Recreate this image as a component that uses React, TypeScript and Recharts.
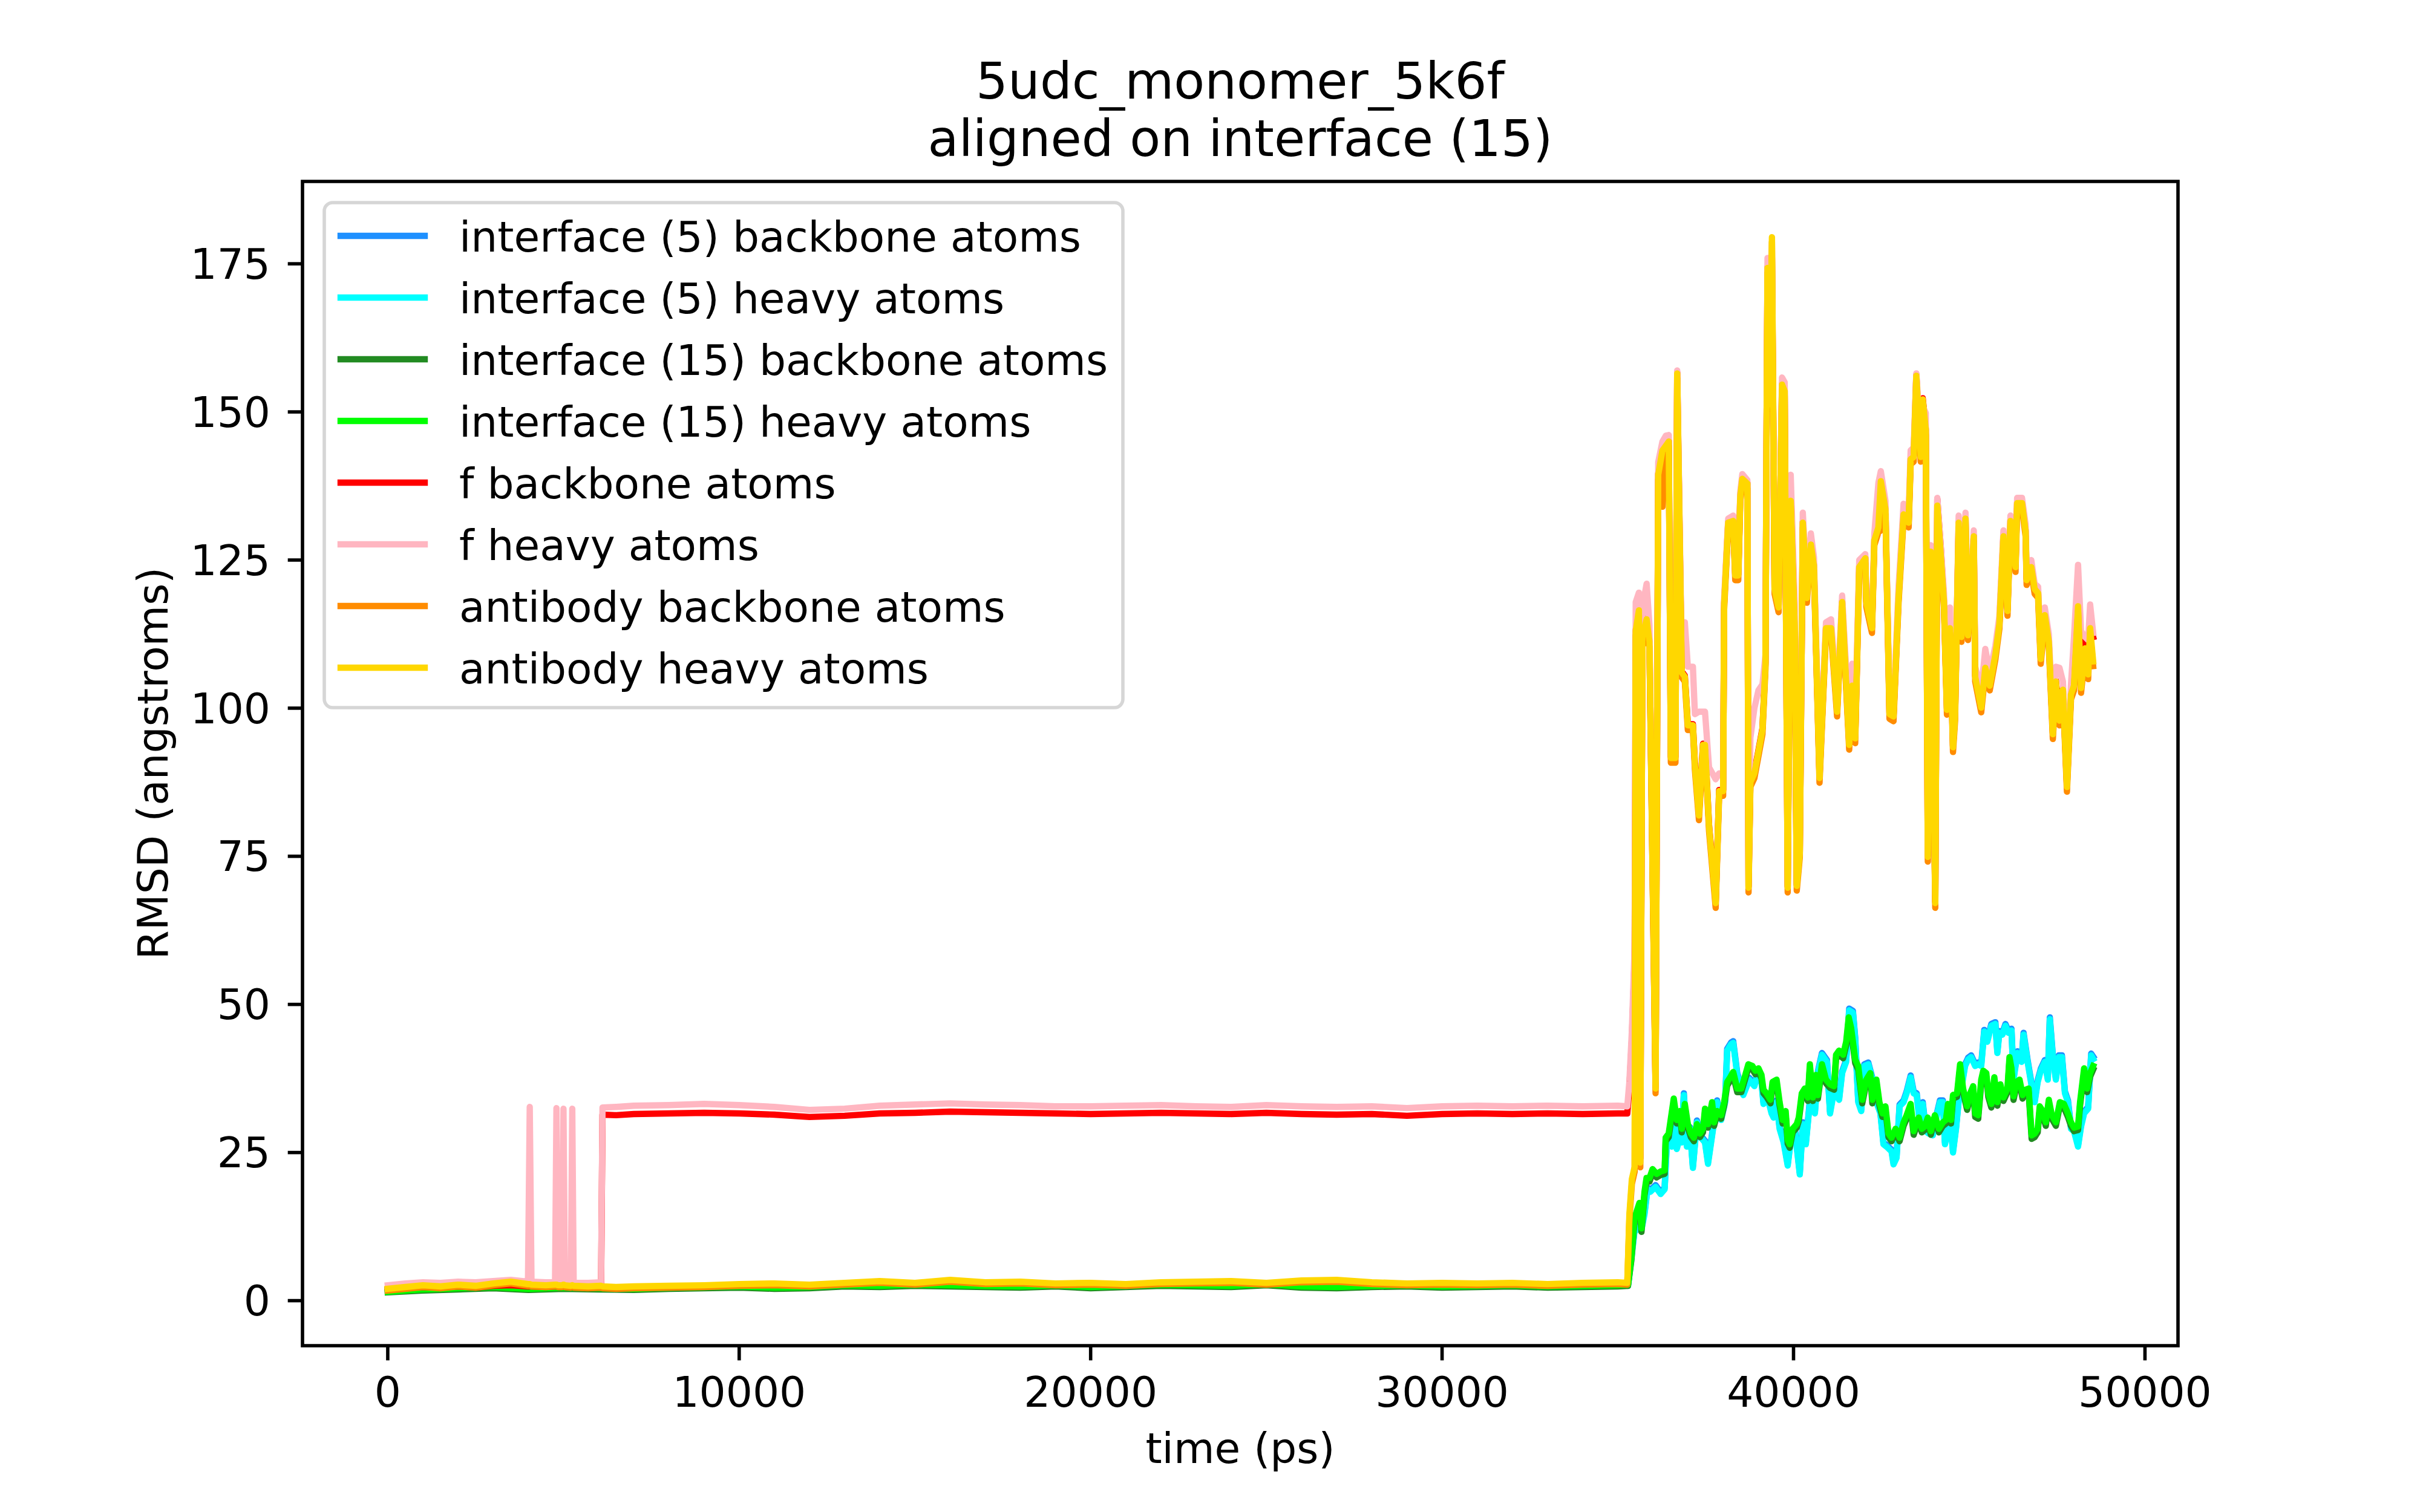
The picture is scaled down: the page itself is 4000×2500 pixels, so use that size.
import React from 'react';
import { LineChart, Line, XAxis, YAxis, ReferenceArea } from 'recharts';

// RMSD trajectories (time in ps, RMSD in angstroms)

// --- f / antibody group (shared time base) ---
const timeAFlat = [0, 500, 1000, 1500, 2000, 2500, 3000, 3500, 3990, 4040, 4090, 4500, 4760, 4800, 4840, 4960, 5000, 5040, 5210, 5250, 5290, 5700, 6070, 6110, 6500, 7000, 8000, 9000, 10000, 11000, 12000, 13000, 14000, 15000, 16000, 17000, 18000, 19000, 20000, 21000, 22000, 23000, 24000, 25000, 26000, 27000, 28000, 29000, 30000, 31000, 32000, 33000, 34000, 35000, 35270];
const timeAWild = [
  35330, 35400, 35480, 35510, 35600, 35640, 35700, 35820, 35900, 36075,
  36150, 36270, 36370, 36450, 36510, 36640, 36690, 36820, 36907, 36993,
  37137, 37194, 37309, 37424, 37481, 37596, 37785, 37883, 37997, 38026,
  38141, 38284, 38342, 38428, 38485, 38543, 38686, 38720, 38772, 38887,
  39002, 39116, 39202, 39231, 39260, 39317, 39386, 39461, 39575, 39673,
  39748, 39834, 39920, 40034, 40092, 40178, 40264, 40379, 40493, 40580,
  40740, 40924, 41067, 41240, 41383, 41584, 41669, 41755, 41870, 42042,
  42071, 42232, 42300, 42415, 42484, 42616, 42731, 42845, 42989, 43132,
  43276, 43333, 43419, 43494, 43620, 43677, 43764, 43821, 43907, 44033,
  44091, 44194, 44280, 44366, 44452, 44538, 44596, 44699, 44779, 44894,
  44963, 45129, 45169, 45341, 45456, 45583, 45743, 45858, 45973, 46088,
  46173, 46317, 46363, 46501, 46604, 46633, 46765, 46862, 46960, 47034,
  47149, 47264, 47379, 47465, 47568, 47665, 47780, 47895, 47981, 48096,
  48182, 48297, 48383, 48440, 48526,
];

const goldFlat = [2.0, 2.3, 2.6, 2.4, 2.7, 2.5, 2.9, 3.2, 2.8, 2.8, 2.7, 2.6, 2.7, 2.7, 2.6, 2.6, 2.7, 2.6, 2.5, 2.6, 2.5, 2.4, 2.5, 2.4, 2.3, 2.4, 2.5, 2.6, 2.8, 2.9, 2.7, 3.0, 3.3, 3.0, 3.5, 3.1, 3.2, 2.9, 3.0, 2.8, 3.1, 3.2, 3.3, 3.0, 3.4, 3.5, 3.1, 2.9, 3.0, 2.9, 3.0, 2.8, 3.0, 3.1, 3.0];
const goldWild = [
  14.6, 20.5, 22.6, 113.0, 116.5, 23.3, 112.0, 115.0, 111.2, 35.8,
  139.4, 143.5, 144.3, 145.0, 91.6, 91.6, 156.5, 106.0, 105.3, 97.1,
  97.1, 90.4, 81.9, 93.8, 93.8, 80.1, 67.1, 86.0, 86.0, 117.5,
  131.3, 131.6, 122.4, 122.4, 135.7, 138.7, 137.9, 69.7, 87.5, 89.0,
  92.7, 96.4, 107.5, 144.6, 174.3, 151.3, 179.5, 120.1, 117.0, 154.6,
  153.5, 69.7, 135.0, 113.5, 70.0, 75.6, 131.3, 118.6, 127.6, 124.0,
  88.2, 113.5, 113.5, 99.4, 117.9, 93.8, 103.8, 94.9, 123.8, 125.3,
  117.9, 113.5, 128.3, 130.5, 138.3, 133.5, 99.0, 98.6, 118.6, 132.7,
  131.3, 142.0, 142.4, 156.1, 142.4, 152.1, 146.9, 74.9, 126.4, 67.1,
  134.2, 125.3, 117.9, 99.7, 113.5, 93.4, 98.6, 131.3, 112.0, 132.0,
  112.3, 129.0, 105.3, 100.1, 106.8, 103.8, 109.0, 114.2, 129.0, 116.4,
  131.6, 123.8, 134.6, 134.6, 129.8, 121.6, 123.8, 120.1, 119.4, 108.3,
  115.7, 111.2, 95.6, 104.5, 97.9, 103.1, 86.7, 102.3, 103.8, 117.2,
  103.4, 110.1, 105.7, 113.5, 107.9,
];

const orangeFlat = [1.7, 2.0, 2.3, 2.1, 2.4, 2.2, 2.6, 2.9, 2.5, 2.5, 2.4, 2.3, 2.4, 2.4, 2.3, 2.3, 2.4, 2.3, 2.2, 2.3, 2.2, 2.1, 2.2, 2.1, 2.0, 2.1, 2.2, 2.3, 2.5, 2.6, 2.4, 2.7, 3.0, 2.7, 3.2, 2.8, 2.9, 2.6, 2.7, 2.5, 2.8, 2.9, 3.0, 2.7, 3.1, 3.2, 2.8, 2.6, 2.7, 2.6, 2.7, 2.5, 2.7, 2.8, 2.7];
const orangeWild = [
  13.8, 19.7, 21.8, 112.2, 115.7, 22.5, 111.2, 111.5, 110.4, 35.0,
  138.6, 134.0, 143.5, 144.2, 90.8, 90.8, 155.7, 105.2, 104.5, 96.3,
  96.3, 89.6, 81.1, 93.0, 93.0, 79.3, 66.3, 85.2, 85.2, 116.7,
  130.5, 130.8, 121.6, 121.6, 134.9, 137.9, 137.1, 68.9, 86.7, 88.2,
  91.9, 95.6, 106.7, 143.8, 173.5, 150.5, 178.7, 119.3, 116.2, 153.8,
  152.7, 68.9, 134.2, 112.7, 69.2, 74.8, 130.5, 117.8, 126.8, 123.2,
  87.4, 112.7, 112.7, 98.6, 117.1, 93.0, 103.0, 94.1, 123.0, 124.5,
  117.1, 112.7, 127.5, 129.7, 130.0, 132.7, 98.2, 97.8, 117.8, 131.9,
  130.5, 141.2, 141.6, 155.3, 141.6, 151.3, 146.1, 74.1, 125.6, 66.3,
  133.4, 124.5, 117.1, 98.9, 112.7, 92.6, 97.8, 130.5, 111.2, 131.2,
  111.5, 128.2, 104.5, 99.3, 106.0, 103.0, 108.2, 113.4, 128.2, 115.6,
  130.8, 123.0, 133.8, 133.8, 129.0, 120.8, 123.0, 119.3, 118.6, 107.5,
  114.9, 110.4, 94.8, 103.7, 97.1, 102.3, 85.9, 101.5, 103.0, 116.4,
  102.6, 109.3, 104.9, 112.7, 107.1,
];

const redFlat = [1.9, 2.1, 2.3, 2.2, 2.4, 2.2, 2.5, 2.6, 2.4, 2.4, 2.4, 2.3, 2.4, 2.4, 2.3, 2.3, 2.4, 2.3, 2.2, 2.3, 2.2, 2.2, 2.2, 31.4, 31.3, 31.5, 31.6, 31.7, 31.6, 31.4, 31.0, 31.2, 31.6, 31.7, 31.9, 31.8, 31.7, 31.6, 31.5, 31.6, 31.7, 31.6, 31.5, 31.7, 31.5, 31.4, 31.5, 31.2, 31.5, 31.6, 31.5, 31.6, 31.5, 31.6, 31.6];
const redWild = [
  36.0, 44.0, 58.0, 113.2, 116.7, 24.0, 112.2, 115.2, 111.4, 36.0,
  139.6, 143.7, 144.5, 145.2, 91.8, 91.8, 156.7, 106.2, 105.5, 97.3,
  97.3, 90.6, 82.1, 94.0, 94.0, 80.3, 67.3, 86.2, 86.2, 117.7,
  131.5, 131.8, 122.6, 122.6, 135.9, 138.9, 138.1, 69.9, 87.7, 89.2,
  92.9, 96.6, 107.7, 144.8, 174.5, 151.5, 176.0, 120.3, 117.2, 154.8,
  153.7, 69.9, 135.2, 113.7, 70.2, 75.8, 131.5, 118.8, 127.8, 124.2,
  88.4, 113.7, 113.7, 99.6, 118.1, 94.0, 104.0, 95.1, 124.0, 125.5,
  118.1, 113.7, 128.5, 130.7, 138.5, 133.7, 99.2, 98.8, 118.8, 132.9,
  131.5, 142.2, 142.6, 156.3, 142.6, 152.3, 147.1, 75.1, 126.6, 67.3,
  135.3, 126.8, 118.1, 99.9, 113.7, 93.6, 98.8, 131.5, 112.2, 132.2,
  112.5, 129.2, 105.5, 100.3, 107.0, 104.0, 109.2, 114.4, 129.2, 116.6,
  131.8, 124.0, 134.8, 134.8, 130.0, 121.8, 124.0, 120.3, 119.6, 108.5,
  115.9, 111.4, 95.8, 104.7, 98.1, 103.3, 86.9, 102.5, 104.0, 117.4,
  110.0, 111.0, 110.5, 114.0, 112.0,
];

const pinkFlat = [2.6, 2.9, 3.1, 3.0, 3.2, 3.1, 3.3, 3.5, 3.2, 32.7, 3.2, 3.1, 3.1, 32.5, 3.1, 3.1, 32.4, 3.1, 3.0, 32.4, 3.0, 3.0, 3.1, 32.6, 32.7, 32.9, 33.0, 33.2, 33.0, 32.7, 32.2, 32.4, 32.9, 33.1, 33.3, 33.1, 33.0, 32.8, 32.8, 32.9, 33.0, 32.8, 32.7, 33.0, 32.8, 32.7, 32.8, 32.5, 32.8, 32.9, 32.8, 32.9, 32.8, 32.9, 32.8];
const pinkWild = [
  37.0, 45.5, 60.0, 117.9, 119.5, 25.0, 117.0, 121.0, 114.0, 37.0,
  141.5, 145.0, 146.0, 146.1, 93.0, 93.0, 157.0, 108.5, 114.5, 107.0,
  107.0, 99.0, 99.4, 99.4, 99.4, 90.0, 88.0, 89.0, 88.5, 118.5,
  132.0, 132.5, 123.5, 123.5, 136.5, 139.5, 138.5, 71.0, 95.0, 100.0,
  103.0, 104.0, 109.0, 146.0, 176.0, 172.0, 176.2, 122.0, 118.5, 155.8,
  155.0, 71.0, 139.4, 117.9, 72.0, 78.0, 133.0, 120.0, 129.5, 125.5,
  90.0, 114.5, 115.0, 101.0, 119.0, 97.0, 107.5, 98.0, 125.0, 126.0,
  119.0, 114.5, 129.5, 138.0, 140.0, 135.0, 100.0, 100.0, 120.5, 134.5,
  133.0, 143.5, 144.0, 156.5, 145.0, 151.0, 149.8, 76.0, 127.5, 68.5,
  135.5, 127.0, 119.5, 101.0, 117.0, 95.0, 100.0, 132.5, 113.5, 133.0,
  113.5, 130.0, 107.0, 103.0, 110.0, 106.0, 110.5, 115.5, 130.0, 118.0,
  132.5, 125.0, 135.5, 135.5, 131.0, 123.0, 125.0, 121.0, 120.5, 109.5,
  117.0, 112.5, 97.0, 107.0, 106.8, 104.5, 88.0, 104.0, 112.0, 124.2,
  113.0, 112.0, 111.5, 117.5, 112.7,
];

// --- interface groups: shared flat part ---
const timeFlat = [0, 1000, 2000, 3000, 4000, 5000, 6000, 7000, 8000, 9000, 10000, 11000, 12000, 13000, 14000, 15000, 16000, 17000, 18000, 19000, 20000, 21000, 22000, 23000, 24000, 25000, 26000, 27000, 28000, 29000, 30000, 31000, 32000, 33000, 34000, 35000, 35290];

// interface (15)
const time15Wild = [
  35387, 35473, 35616, 35674, 35760, 35817, 35903, 35989, 36104, 36219,
  36333, 36362, 36448, 36592, 36678, 36764, 36821, 36907, 36993, 37079,
  37165, 37251, 37338, 37424, 37481, 37567, 37682, 37739, 37825, 37940,
  38026, 38112, 38198, 38284, 38399, 38514, 38629, 38715, 38830, 38916,
  39002, 39088, 39145, 39231, 39346, 39403, 39518, 39604, 39690, 39776,
  39834, 39891, 39977, 40092, 40149, 40235, 40321, 40407, 40465, 40551,
  40637, 40694, 40809, 40924, 41039, 41153, 41211, 41297, 41412, 41498,
  41570, 41640, 41755, 41841, 41956, 42071, 42186, 42243, 42358, 42444,
  42530, 42616, 42702, 42788, 42903, 43018, 43132, 43218, 43333, 43419,
  43505, 43563, 43649, 43735, 43821, 43907, 44022, 44136, 44251, 44337,
  44395, 44481, 44538, 44653, 44739, 44825, 44940, 45026, 45112, 45169,
  45255, 45341, 45399, 45485, 45542, 45628, 45714, 45800, 45886, 45973,
  46087, 46145, 46202, 46260, 46346, 46432, 46518, 46604, 46690, 46776,
  46862, 46948, 47005, 47091, 47178, 47264, 47350, 47465, 47579, 47694,
  47809, 47895, 47981, 48096, 48153, 48268, 48354, 48440, 48526,
];
const limeFlat = [1.5, 1.9, 2.1, 2.3, 2.0, 2.2, 2.1, 2.0, 2.2, 2.3, 2.4, 2.2, 2.3, 2.6, 2.5, 2.7, 2.6, 2.5, 2.4, 2.6, 2.3, 2.5, 2.7, 2.6, 2.5, 2.8, 2.4, 2.3, 2.5, 2.6, 2.4, 2.5, 2.6, 2.4, 2.5, 2.6, 2.7];
const limeWild = [
  7.5, 13.9, 16.5, 12.2, 18.4, 20.7, 20.7, 22.2, 21.4, 21.8,
  22.0, 27.5, 28.2, 34.1, 30.5, 32.0, 29.0, 33.2, 29.8, 28.2,
  27.5, 29.8, 28.2, 29.0, 32.4, 29.8, 33.5, 30.1, 32.0, 31.3,
  33.5, 36.9, 37.7, 38.6, 35.8, 35.8, 38.1, 39.9, 39.6, 38.8,
  39.2, 38.1, 35.6, 35.0, 33.9, 36.9, 37.3, 33.5, 30.5, 32.0,
  27.1, 26.4, 29.0, 29.8, 30.9, 35.0, 35.8, 34.3, 39.9, 34.3,
  38.1, 34.7, 39.9, 37.3, 36.5, 36.2, 41.5, 42.2, 41.5, 43.7,
  47.8, 46.0, 40.7, 39.6, 33.9, 37.3, 38.4, 33.9, 37.3, 33.5,
  31.6, 32.8, 28.2, 27.5, 29.0, 27.5, 30.1, 31.3, 33.2, 28.6,
  30.1, 30.9, 29.0, 29.4, 30.9, 28.6, 31.3, 29.0, 30.1, 30.5,
  33.2, 30.5, 34.7, 35.0, 39.9, 35.8, 32.8, 35.0, 36.2, 31.6,
  31.3, 37.3, 38.8, 38.4, 35.0, 33.2, 37.7, 33.5, 36.5, 34.3,
  35.8, 41.1, 39.2, 34.5, 36.9, 37.3, 34.7, 35.6, 35.8, 27.9,
  28.2, 29.0, 32.8, 32.0, 30.1, 33.9, 31.3, 30.1, 33.5, 33.2,
  31.6, 30.1, 29.2, 29.4, 33.5, 39.2, 35.8, 38.4, 39.6,
];
const forestFlat = [1.4, 1.7, 1.9, 2.1, 1.8, 2.0, 1.9, 1.8, 2.0, 2.1, 2.2, 2.0, 2.1, 2.4, 2.3, 2.5, 2.4, 2.3, 2.2, 2.4, 2.1, 2.3, 2.5, 2.4, 2.3, 2.6, 2.2, 2.1, 2.3, 2.4, 2.2, 2.3, 2.4, 2.2, 2.3, 2.4, 2.5];
const forestWild = [
  6.9, 13.3, 15.9, 11.6, 17.8, 20.1, 20.1, 21.6, 20.8, 21.2,
  21.4, 26.9, 27.6, 33.5, 29.9, 31.4, 28.4, 32.6, 29.2, 27.6,
  26.9, 29.2, 27.6, 28.4, 31.8, 29.2, 32.9, 29.5, 31.4, 30.7,
  32.9, 36.3, 37.1, 38.0, 35.2, 35.2, 37.5, 39.3, 39.0, 38.2,
  38.6, 37.5, 35.0, 34.4, 33.3, 36.3, 36.7, 32.9, 29.9, 31.4,
  26.5, 25.8, 28.4, 29.2, 30.3, 34.4, 35.2, 33.7, 39.3, 33.7,
  37.5, 34.1, 39.3, 36.7, 35.9, 35.6, 40.9, 41.6, 40.9, 43.1,
  47.2, 45.4, 40.1, 39.0, 33.3, 36.7, 37.8, 33.3, 36.7, 32.9,
  31.0, 32.2, 27.6, 26.9, 28.4, 26.9, 29.5, 30.7, 32.6, 28.0,
  29.5, 30.3, 28.4, 28.8, 30.3, 28.0, 30.7, 28.4, 29.5, 29.9,
  32.6, 29.9, 34.1, 34.4, 39.3, 35.2, 32.2, 34.4, 35.6, 31.0,
  30.7, 36.7, 38.2, 37.8, 34.4, 32.6, 37.1, 32.9, 35.9, 33.7,
  35.2, 40.5, 38.6, 33.9, 36.3, 36.7, 34.1, 35.0, 35.2, 27.3,
  27.6, 28.4, 32.2, 31.4, 29.5, 33.3, 30.7, 29.5, 32.9, 32.6,
  31.0, 29.5, 28.6, 28.8, 32.9, 38.6, 35.2, 37.8, 39.0,
];

// interface (5)
const time5Wild = [
  35387, 35473, 35616, 35674, 35760, 35846, 35932, 36075, 36219, 36333,
  36391, 36448, 36534, 36592, 36678, 36764, 36821, 36879, 36965, 37051,
  37137, 37251, 37366, 37481, 37567, 37711, 37825, 37940, 38055, 38112,
  38227, 38284, 38399, 38571, 38743, 38887, 39002, 39088, 39145, 39260,
  39375, 39432, 39518, 39604, 39719, 39834, 39948, 40034, 40178, 40264,
  40350, 40465, 40608, 40694, 40809, 40952, 41039, 41153, 41297, 41383,
  41498, 41584, 41690, 41755, 41841, 41927, 42013, 42128, 42243, 42358,
  42472, 42559, 42645, 42788, 42845, 42932, 43018, 43132, 43218, 43333,
  43419, 43505, 43591, 43677, 43764, 43850, 43964, 44079, 44165, 44251,
  44309, 44395, 44481, 44538, 44624, 44710, 44796, 44882, 44968, 45054,
  45169, 45255, 45341, 45427, 45514, 45628, 45743, 45800, 45858, 45944,
  46030, 46116, 46202, 46260, 46374, 46489, 46546, 46661, 46776, 46862,
  46948, 47034, 47149, 47235, 47293, 47379, 47465, 47550, 47637, 47723,
  47809, 47895, 47981, 48096, 48182, 48268, 48383, 48470, 48526,
];
const cyanFlat = [1.8, 2.1, 2.3, 2.2, 2.4, 2.3, 2.2, 2.1, 2.3, 2.4, 2.5, 2.3, 2.5, 2.7, 2.6, 2.8, 2.7, 2.6, 2.5, 2.7, 2.5, 2.6, 2.8, 2.7, 2.6, 2.9, 2.5, 2.4, 2.6, 2.8, 2.5, 2.6, 2.7, 2.5, 2.6, 2.7, 2.5];
const cyanWild = [
  7.1, 11.6, 12.4, 12.0, 14.6, 18.8, 18.4, 19.2, 18.0, 18.8,
  26.0, 27.5, 26.0, 32.0, 25.6, 27.5, 26.7, 34.7, 26.0, 29.0,
  22.4, 30.1, 27.5, 26.7, 23.1, 29.0, 33.5, 30.5, 33.5, 42.2,
  43.3, 43.5, 38.1, 34.7, 37.3, 36.2, 38.8, 36.9, 33.2, 34.3,
  31.6, 30.9, 33.5, 29.0, 26.7, 22.8, 28.2, 29.0, 21.3, 29.8,
  26.4, 33.5, 31.6, 38.4, 41.5, 40.3, 31.6, 35.4, 33.9, 38.4,
  40.3, 49.0, 48.6, 44.1, 33.5, 32.0, 39.6, 39.9, 37.3, 33.5,
  31.6, 26.4, 26.0, 25.2, 23.0, 24.1, 32.8, 33.5, 35.0, 37.7,
  35.0, 34.7, 30.1, 33.2, 28.6, 28.2, 27.9, 31.3, 33.5, 33.5,
  26.4, 29.0, 29.0, 25.0, 29.0, 34.3, 36.5, 39.6, 40.7, 41.1,
  39.6, 39.9, 39.6, 45.4, 43.7, 46.4, 46.7, 41.8, 45.2, 44.9,
  46.4, 45.2, 45.6, 37.3, 41.8, 40.3, 44.9, 40.3, 36.2, 33.5,
  36.9, 38.8, 40.3, 37.3, 47.5, 41.1, 37.3, 41.1, 41.1, 35.0,
  33.5, 29.0, 28.6, 26.0, 29.4, 31.6, 32.4, 41.4, 40.8,
];
const blueFlat = [1.9, 2.2, 2.4, 2.3, 2.5, 2.4, 2.3, 2.2, 2.4, 2.5, 2.6, 2.4, 2.6, 2.8, 2.7, 2.9, 2.8, 2.7, 2.6, 2.8, 2.6, 2.7, 2.9, 2.8, 2.7, 3.0, 2.6, 2.5, 2.7, 2.9, 2.6, 2.7, 2.8, 2.6, 2.7, 2.8, 2.6];
const blueWild = [
  7.4, 11.9, 12.7, 12.3, 14.9, 19.1, 18.7, 19.5, 18.3, 19.1,
  26.3, 27.8, 26.3, 32.3, 25.9, 27.8, 27.0, 35.0, 26.3, 29.3,
  22.7, 30.4, 27.8, 27.0, 23.4, 29.3, 33.8, 30.8, 33.8, 42.5,
  43.6, 43.8, 38.4, 35.0, 37.6, 36.5, 39.1, 37.2, 33.5, 34.6,
  31.9, 31.2, 33.8, 29.3, 27.0, 23.1, 28.5, 29.3, 21.6, 30.1,
  26.7, 33.8, 31.9, 38.7, 41.8, 40.6, 31.9, 35.7, 34.2, 38.7,
  40.6, 49.3, 48.9, 44.4, 33.8, 32.3, 39.9, 40.2, 37.6, 33.8,
  31.9, 26.7, 26.3, 25.5, 23.3, 24.4, 33.1, 33.8, 35.3, 38.0,
  35.3, 35.0, 30.4, 33.5, 28.9, 28.5, 28.2, 31.6, 33.8, 33.8,
  26.7, 29.3, 29.3, 25.3, 29.3, 34.6, 36.8, 39.9, 41.0, 41.4,
  39.9, 40.2, 39.9, 45.7, 44.0, 46.7, 47.0, 42.1, 45.5, 45.2,
  46.7, 45.5, 45.9, 37.6, 42.1, 40.6, 45.2, 40.6, 36.5, 33.8,
  37.2, 39.1, 40.6, 37.6, 47.8, 41.4, 37.6, 41.4, 41.4, 35.3,
  33.8, 29.3, 28.9, 26.3, 29.7, 31.9, 32.7, 41.7, 41.2,
];

const X_TICKS = [0, 10000, 20000, 30000, 40000, 50000];
const Y_TICKS = [0, 25, 50, 75, 100, 125, 150, 175];
const X_DOMAIN = [-2426, 50940];
const Y_DOMAIN = [-7.6, 188.9];

const FONT = '"DejaVu Sans", sans-serif';
const TEXT_PX = 69.4; // 10pt
const TITLE_PX = 83.3; // 12pt
const LINE_W = 10.4;
const SPINE_W = 5.6;

const toRows = (ts: number[], vs: number[]) => ts.map((t, i) => ({ t, v: vs[i] }));

const timeA = [...timeAFlat, ...timeAWild];
const time15 = [...timeFlat, ...time15Wild];
const time5 = [...timeFlat, ...time5Wild];

// draw order = legend order (last one on top)
const series = [
  { name: 'interface (5) backbone atoms', color: '#1e90ff', rows: toRows(time5, [...blueFlat, ...blueWild]) },
  { name: 'interface (5) heavy atoms', color: '#00ffff', rows: toRows(time5, [...cyanFlat, ...cyanWild]) },
  { name: 'interface (15) backbone atoms', color: '#228b22', rows: toRows(time15, [...forestFlat, ...forestWild]) },
  { name: 'interface (15) heavy atoms', color: '#00ff00', rows: toRows(time15, [...limeFlat, ...limeWild]) },
  { name: 'f backbone atoms', color: '#ff0000', rows: toRows(timeA, [...redFlat, ...redWild]) },
  { name: 'f heavy atoms', color: '#ffb6c1', rows: toRows(timeA, [...pinkFlat, ...pinkWild]) },
  { name: 'antibody backbone atoms', color: '#ff8c00', rows: toRows(timeA, [...orangeFlat, ...orangeWild]) },
  { name: 'antibody heavy atoms', color: '#ffd700', rows: toRows(timeA, [...goldFlat, ...goldWild]) },
];

function Overlay() {
  return (
    <svg width={4000} height={2500} style={{ position: 'absolute', left: 0, top: 0, pointerEvents: 'none' }}>
      <g fontFamily={FONT} fill="#000">
        <text x={2050} y={163} fontSize={TITLE_PX} textAnchor="middle">5udc_monomer_5k6f</text>
        <text x={2050} y={258} fontSize={TITLE_PX} textAnchor="middle">aligned on interface (15)</text>
        <text x={2050} y={2419} fontSize={TEXT_PX} textAnchor="middle">time (ps)</text>
        <text x={277} y={1262} fontSize={TEXT_PX} textAnchor="middle" transform="rotate(-90, 277, 1262)">
          RMSD (angstroms)
        </text>
      </g>
      <rect x={536} y={335} width={1320} height={835} rx={14} fill="#fff" fillOpacity={0.8}
        stroke="#cccccc" strokeOpacity={0.8} strokeWidth={SPINE_W} />
      {series.map((s, i) => (
        <g key={s.name}>
          <line x1={563} x2={702} y1={390 + i * 102} y2={390 + i * 102} stroke={s.color}
            strokeWidth={LINE_W} strokeLinecap="square" />
          <text x={759} y={416 + i * 102} fontSize={TEXT_PX} fontFamily={FONT} fill="#000">{s.name}</text>
        </g>
      ))}
    </svg>
  );
}

export default function App() {
  const tickStyle = { fill: '#000', fontSize: TEXT_PX, fontFamily: FONT };
  return (
    <div style={{ position: 'absolute', left: 0, top: 0, width: 4000, height: 2500, background: '#fff' }}>
      <LineChart width={4000} height={2500} margin={{ top: 300, right: 400, bottom: 125, left: 300 }}>
        <XAxis
          type="number"
          dataKey="t"
          domain={X_DOMAIN}
          ticks={X_TICKS}
          interval={0}
          allowDataOverflow
          height={150}
          axisLine={false}
          tickLine={{ stroke: '#000', strokeWidth: SPINE_W }}
          tickSize={24.3}
          tickMargin={27}
          tick={tickStyle}
        />
        <YAxis
          type="number"
          domain={Y_DOMAIN}
          ticks={Y_TICKS}
          interval={0}
          allowDataOverflow
          width={200}
          axisLine={false}
          tickLine={{ stroke: '#000', strokeWidth: SPINE_W }}
          tickSize={24.3}
          tickMargin={28.7}
          tick={tickStyle}
        />
        {series.map((s) => (
          <Line
            key={s.name}
            data={s.rows}
            dataKey="v"
            name={s.name}
            type="linear"
            stroke={s.color}
            strokeWidth={LINE_W}
            strokeLinejoin="round"
            strokeLinecap="square"
            dot={false}
            activeDot={false}
            isAnimationActive={false}
          />
        ))}
        <ReferenceArea
          x1={X_DOMAIN[0]}
          x2={X_DOMAIN[1]}
          y1={Y_DOMAIN[0]}
          y2={Y_DOMAIN[1]}
          fill="none"
          fillOpacity={0}
          stroke="#000"
          strokeWidth={SPINE_W}
          ifOverflow="visible"
        />
      </LineChart>
      <Overlay />
    </div>
  );
}
